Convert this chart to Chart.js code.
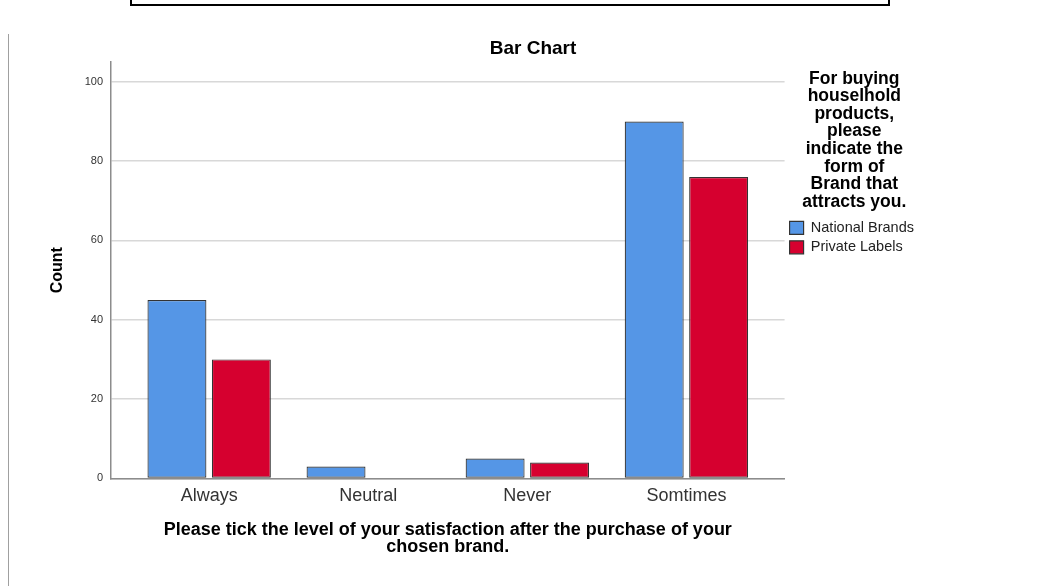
<!DOCTYPE html>
<html>
<head>
<meta charset="utf-8">
<script src="https://cdn.jsdelivr.net/npm/chart.js@4"></script>
<style>
  html, body { margin: 0; padding: 0; background: #fff; overflow: hidden; }
  #page { position: relative; width: 1047px; height: 586px; }
  #topBox {
    position: absolute; left: 130px; top: -12px; width: 756px; height: 14px;
    border: 2px solid #000;
  }
  #frameLine {
    position: absolute; left: 8px; top: 34px; bottom: 0; width: 1px; background: #a0a0a0;
  }
  #chartTitle {
    position: absolute; left: 0; width: 1066px; top: 37px; line-height: 22px;
    text-align: center; font: bold 19px "Liberation Sans", Arial, sans-serif; color: #000;
  }
  #wrap { position: absolute; left: 0; top: 0; width: 1047px; height: 586px; }
</style>
</head>
<body>
<div id="page">
  <div id="topBox"></div>
  <div id="frameLine"></div>
  <div id="wrap"><canvas id="barChart"></canvas></div>
  <div id="chartTitle">Bar Chart</div>
</div>
<script>
const categories = ['Always', 'Neutral', 'Never', 'Somtimes'];
const nationalBrands = [45, 3, 5, 90];
const privateLabels = [30, null, 4, 76];
const yTicks = [0, 20, 40, 60, 80, 100];

const FONT = '"Liberation Sans", Arial, sans-serif';

const toPoints = vals => vals.map((v, i) => ({ x: i, y: v }));

const ctx = document.getElementById('barChart').getContext('2d');
new Chart(ctx, {
    type: 'bar',
    data: {
        datasets: [
            {
                label: 'National Brands',
                data: toPoints(nationalBrands),
                backgroundColor: '#5596e6',
                borderColor: '#333',
                borderWidth: 1.2,
                borderSkipped: false
            },
            {
                label: 'Private Labels',
                data: toPoints(privateLabels),
                backgroundColor: '#d6002f',
                borderColor: '#333',
                borderWidth: 1.2,
                borderSkipped: false
            }
        ]
    },
    options: {
        responsive: true,
        maintainAspectRatio: false,
        animation: false,
        categoryPercentage: 0.81,
        barPercentage: 0.915,
        layout: { padding: { left: 40, top: 62, right: 123, bottom: 30 } },
        plugins: {
            tooltip: { enabled: false },
            legend: {
                position: 'right',
                align: 'start',
                title: {
                    display: true,
                    text: ['For buying', 'houselhold', 'products,', 'please', 'indicate the',
                           'form of', 'Brand that', 'attracts you.'],
                    color: '#000',
                    font: { family: FONT, size: 17.5, weight: 'bold', lineHeight: 1.005 },
                    padding: { top: 8, bottom: 128 }
                },
                labels: {
                    color: '#222',
                    font: { family: FONT, size: 14.5 },
                    boxWidth: 14,
                    boxHeight: 13,
                    padding: 5
                }
            }
        },
        scales: {
            x: {
                type: 'linear',
                min: -0.617,
                max: 3.617,
                offset: false,
                grid: { display: false, offset: false },
                border: { color: '#8c8c8c', width: 1.5 },
                afterBuildTicks: scale => {
                    scale.ticks = categories.map((c, i) => ({ value: i }));
                },
                ticks: {
                    autoSkip: false,
                    maxRotation: 0,
                    padding: -1,
                    color: '#333',
                    font: { family: FONT, size: 18 },
                    callback: v => categories[v]
                },
                title: {
                    display: true,
                    text: ['Please tick the level of your satisfaction after the purchase of your',
                           'chosen brand.'],
                    color: '#000',
                    font: { family: FONT, size: 18, weight: 'bold', lineHeight: 0.945 },
                    padding: { top: 16, bottom: 0 }
                }
            },
            y: {
                min: 0,
                max: 105,
                grid: { color: '#d8d8d8', lineWidth: 1.5, drawTicks: false },
                border: { color: '#8c8c8c', width: 1.5 },
                afterBuildTicks: scale => {
                    scale.ticks = yTicks.map(v => ({ value: v }));
                },
                afterFit: scale => { scale.width = 71; },
                ticks: {
                    padding: 8,
                    color: '#333',
                    font: { family: FONT, size: 11 }
                },
                title: {
                    display: true,
                    text: 'Count',
                    color: '#000',
                    font: { family: FONT, size: 16, weight: 'bold' },
                    padding: { top: 8, bottom: 0 }
                }
            }
        }
    }
});
</script>
</body>
</html>
